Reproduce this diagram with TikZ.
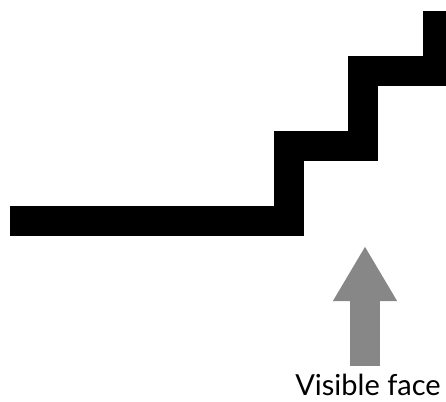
\documentclass[tikz,border=0pt]{standalone}
\usepackage{fontspec}
\setmainfont{Lato}
\usetikzlibrary{arrows.meta}
\definecolor{arrowgray}{HTML}{878787}

\tikzset{
    stair/.style={line width=30pt, black},
    uparrow/.style={line width=30pt, arrowgray, -{Triangle[width=60pt,length=55pt]}},
    caption/.style={font=\fontsize{29}{34}\selectfont, inner sep=0pt}
}

\begin{document}
\begin{tikzpicture}[x=1pt,y=-1pt]

    \useasboundingbox (0,0) rectangle (446,401);
    \draw[stair] (10,221) -- (289,221) -- (289,146) -- (363,146)
        -- (363,71) -- (438,71) -- (438,11);
    \coordinate (tail) at (365,366);
    \coordinate (tip) at (365,246);
    \node[caption, anchor=base] (face) at (368,395) {Visible face};
    \draw[uparrow] (tail) -- (tip);
        \end{tikzpicture}
\end{document}
